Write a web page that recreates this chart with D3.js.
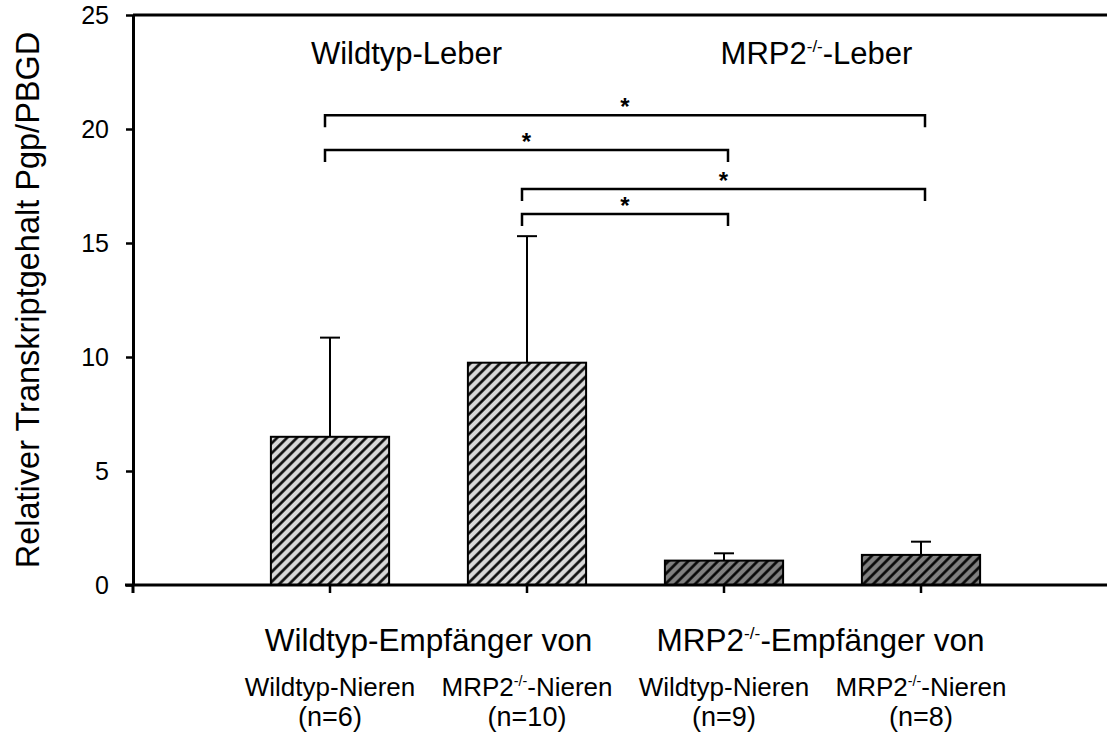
<!DOCTYPE html>
<html>
<head>
<meta charset="utf-8">
<script src="https://cdn.jsdelivr.net/npm/d3@7"></script>
<style>
  body { margin: 0; background: #fff; }
  text { font-family: "Liberation Sans", Arial, sans-serif; fill: #000; }
</style>
</head>
<body>
<script>
// groups (recipients / kidneys)
var categories = ["wt-wt", "wt-mrp2", "mrp2-wt", "mrp2-mrp2"];
var kidneyLabels = ["Wildtyp-Nieren", "MRP2", "Wildtyp-Nieren", "MRP2"];
var nLabels = ["(n=6)", "(n=10)", "(n=9)", "(n=8)"];
var means = [6.5, 9.75, 1.07, 1.32];
var sds = [4.35, 5.55, 0.32, 0.58];
var liverType = ["wt", "wt", "mrp2", "mrp2"];
var yTicks = [0, 5, 10, 15, 20, 25];
// significance brackets: from, to, level
var sigFrom = [0, 0, 1, 1];
var sigTo = [3, 2, 3, 2];
var sigLevel = [20.6, 19.08, 17.37, 16.27];

var W = 1107, H = 733;
var svg = d3.select("body").append("svg")
  .attr("width", W)
  .attr("height", H);

var y = d3.scaleLinear().domain([0, 25]).range([585, 15]);
var x = d3.scaleBand().domain(categories)
  .range([133 + 98.5, 133 + 98.5 + 4 * 197])
  .paddingInner(0.4).paddingOuter(0.2);

function cx(i){ return x(categories[i]) + x.bandwidth() / 2; }

// hatch patterns
var defs = svg.append("defs");
function hatch(id, bg){
  var p = defs.append("pattern")
    .attr("id", id)
    .attr("patternUnits", "userSpaceOnUse")
    .attr("width", 7).attr("height", 7)
    .attr("patternTransform", "rotate(45)");
  p.append("rect").attr("width", 7).attr("height", 7).attr("fill", bg);
  p.append("line").attr("x1", 1.5).attr("x2", 1.5).attr("y1", 0).attr("y2", 7)
    .attr("stroke", "#000").attr("stroke-width", 2.5);
}
hatch("hatchLight", "#d9d9d9");
hatch("hatchDark", "#808080");

// top border
svg.append("line")
  .attr("x1", 133).attr("x2", W)
  .attr("y1", y(25)).attr("y2", y(25))
  .attr("stroke", "#000").attr("stroke-width", 3);

// bars
svg.selectAll("rect.bar").data(categories).enter().append("rect")
  .attr("class", "bar")
  .attr("x", function(c){ return x(c); })
  .attr("width", x.bandwidth())
  .attr("y", function(c, i){ return y(means[i]); })
  .attr("height", function(c, i){ return y(0) - y(means[i]); })
  .attr("fill", function(c, i){ return liverType[i] === "wt" ? "url(#hatchLight)" : "url(#hatchDark)"; })
  .attr("stroke", "#000").attr("stroke-width", 2);

// error bars
categories.forEach(function(c, i){
  svg.append("line")
    .attr("x1", cx(i)).attr("x2", cx(i))
    .attr("y1", y(means[i])).attr("y2", y(means[i] + sds[i]))
    .attr("stroke", "#000").attr("stroke-width", 2);
  svg.append("line")
    .attr("x1", cx(i) - 10).attr("x2", cx(i) + 10)
    .attr("y1", y(means[i] + sds[i])).attr("y2", y(means[i] + sds[i]))
    .attr("stroke", "#000").attr("stroke-width", 2);
});

// y axis
var yAxis = svg.append("g")
  .attr("transform", "translate(133,0)")
  .call(d3.axisLeft(y).tickValues(yTicks).tickSize(7).tickSizeOuter(0).tickPadding(17));
yAxis.select(".domain").attr("stroke-width", 3);
yAxis.selectAll(".tick line").attr("stroke-width", 2.5);
yAxis.selectAll(".tick text")
  .style("font-family", "'Liberation Sans', Arial, sans-serif")
  .style("font-size", "25px");

// x axis
var xAxis = svg.append("g")
  .attr("transform", "translate(0," + y(0) + ")");
xAxis.append("line")
  .attr("x1", 125).attr("x2", W)
  .attr("stroke", "#000").attr("stroke-width", 3);
xAxis.selectAll("line.tk").data(categories).enter().append("line")
  .attr("class", "tk")
  .attr("x1", function(c, i){ return cx(i); })
  .attr("x2", function(c, i){ return cx(i); })
  .attr("y1", 0).attr("y2", 8)
  .attr("stroke", "#000").attr("stroke-width", 2.5);
xAxis.append("line")
  .attr("x1", 133).attr("x2", 133).attr("y1", 0).attr("y2", 8)
  .attr("stroke", "#000").attr("stroke-width", 3);

// significance brackets
sigFrom.forEach(function(f, k){
  var x1 = cx(f) - 5;
  var x2 = cx(sigTo[k]) + 4;
  var yy = y(sigLevel[k]);
  svg.append("path")
    .attr("d", "M" + x1 + "," + (yy + 12) + "V" + yy + "H" + x2 + "V" + (yy + 12))
    .attr("fill", "none").attr("stroke", "#000").attr("stroke-width", 2.5);
  svg.append("text")
    .attr("x", (x1 + x2) / 2)
    .attr("y", yy)
    .attr("text-anchor", "middle")
    .style("font-size", "24px").style("font-weight", "bold")
    .text("*");
});

// superscript helper
function supText(sel, pre, sup, post, d){
  sel.append("tspan").text(pre);
  sel.append("tspan").attr("dy", -d).style("font-size", "0.55em").text(sup);
  sel.append("tspan").attr("dy", d).text(post);
}

// liver labels
svg.append("text")
  .attr("x", (cx(0) + cx(1)) / 2 - 22)
  .attr("y", 64).attr("text-anchor", "middle")
  .style("font-size", "31px")
  .text("Wildtyp-Leber");
supText(svg.append("text")
  .attr("x", (cx(2) + cx(3)) / 2 - 6)
  .attr("y", 64).attr("text-anchor", "middle")
  .style("font-size", "31px"), "MRP2", "-/-", "-Leber", 12);

// y label
svg.append("text")
  .attr("transform", "translate(39," + y(12.5) + ") rotate(-90)")
  .attr("text-anchor", "middle")
  .style("font-size", "32.5px")
  .text("Relativer Transkriptgehalt Pgp/PBGD");

// bottom labels
svg.append("text")
  .attr("x", (cx(0) + cx(1)) / 2)
  .attr("y", 651).attr("text-anchor", "middle")
  .style("font-size", "31.5px")
  .text("Wildtyp-Empfänger von");
supText(svg.append("text")
  .attr("x", (cx(2) + cx(3)) / 2 - 2)
  .attr("y", 651).attr("text-anchor", "middle")
  .style("font-size", "31.5px"), "MRP2", "-/-", "-Empfänger von", 12);

categories.forEach(function(c, i){
  var t = svg.append("text")
    .attr("x", cx(i)).attr("y", 696).attr("text-anchor", "middle")
    .style("font-size", "26px");
  if (kidneyLabels[i] === "MRP2") {
    supText(t, "MRP2", "-/-", "-Nieren", 10);
  } else {
    t.text(kidneyLabels[i]);
  }
  svg.append("text")
    .attr("x", cx(i)).attr("y", 726).attr("text-anchor", "middle")
    .style("font-size", "27px")
    .text(nLabels[i]);
});
</script>
</body>
</html>
